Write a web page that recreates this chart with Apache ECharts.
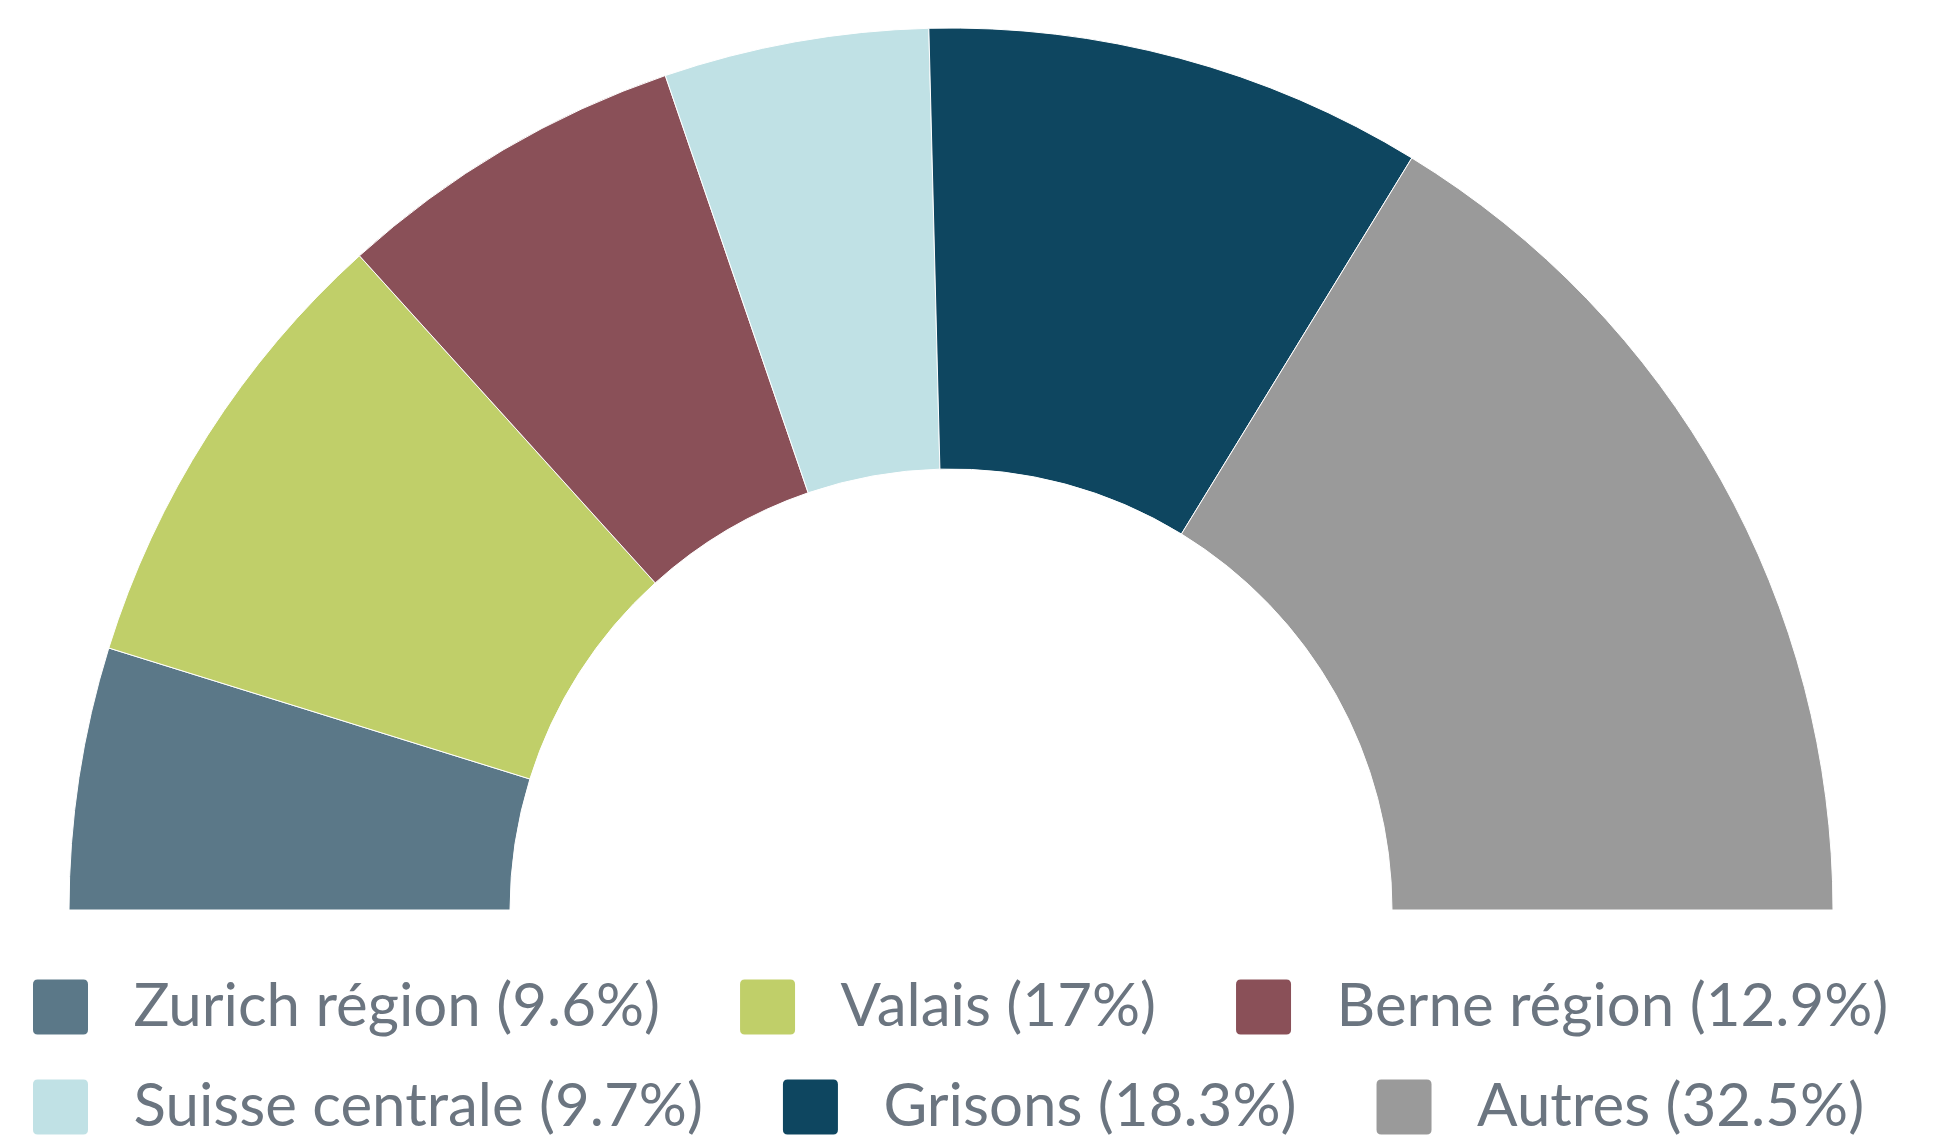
<!DOCTYPE html>
<html>
<head>
<meta charset="utf-8">
<title>Répartition par région</title>
<script src="https://cdn.jsdelivr.net/npm/echarts@6/dist/echarts.min.js"></script>
<style>
    html, body { margin: 0; padding: 0; background: #fff; }
    #chart { width: 1946px; height: 1143px; }
</style>
</head>
<body>
<div id="chart"></div>
<script>
// données
var regions = ['Zurich région', 'Valais', 'Berne région', 'Suisse centrale', 'Grisons', 'Autres'];
var parts = [9.6, 17, 12.9, 9.7, 18.3, 32.5];
var couleurs = ['#5b7888', '#c0cf69', '#8a5058', '#c0e1e5', '#0e4660', '#9a9a9a'];

var chart = echarts.init(document.getElementById('chart'));

var pieData = regions.map(function (nom, i) {
    return { name: nom, value: parts[i], itemStyle: { color: couleurs[i] } };
});

var icone = 'path://M2,0 H18 Q20,0 20,2 V18 Q20,20 18,20 H2 Q0,20 0,18 V2 Q0,0 2,0 Z';

function legende(noms, top) {
    return {
        data: noms,
        left: 31,
        top: top,
        padding: 0,
        orient: 'horizontal',
        icon: icone,
        itemWidth: 58,
        itemHeight: 57,
        itemGap: 78,
        selectedMode: false,
        formatter: function (nom) {
            return nom + ' (' + parts[regions.indexOf(nom)] + '%)';
        },
        textStyle: {
            color: '#6b7580',
            fontFamily: 'Lato',
            fontSize: 60,
            padding: [0, 0, 0, 39]
        }
    };
}

var option = {
    animation: false,
    legend: [
        legende(regions.slice(0, 3), 977),
        legende(regions.slice(3, 6), 1077)
    ],
    series: [{
        type: 'pie',
        center: [951, 910],
        radius: [441, 882],
        startAngle: 180,
        endAngle: 0,
        clockwise: true,
        label: { show: false },
        labelLine: { show: false },
        itemStyle: { borderColor: '#fff', borderWidth: 1 },
        emphasis: { disabled: true },
        data: pieData
    }]
};

chart.setOption(option);
</script>
</body>
</html>
